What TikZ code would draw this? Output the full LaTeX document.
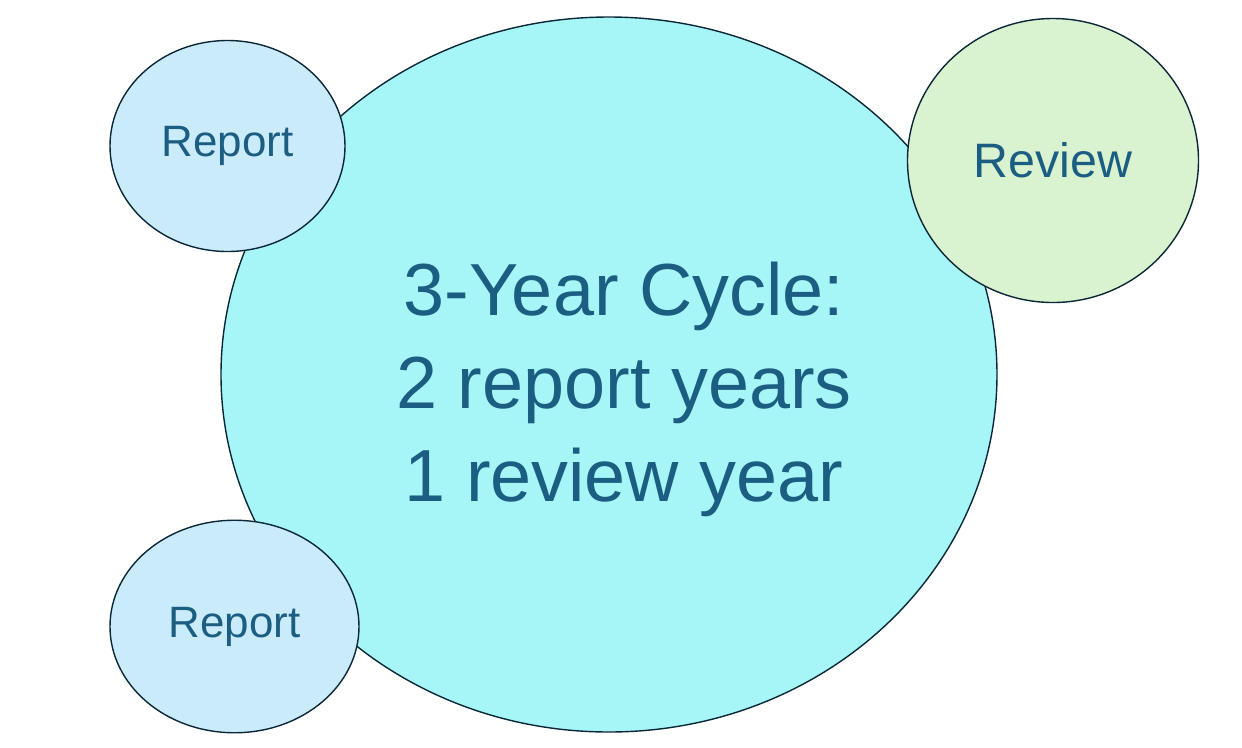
\documentclass[tikz,border=0pt]{standalone}
\usepackage{fontspec}
\setmainfont{Liberation Sans}
\usetikzlibrary{shapes.geometric}
\definecolor{cycleblue}{RGB}{166,246,248}
\definecolor{reportblue}{RGB}{202,236,250}
\definecolor{reviewgreen}{RGB}{217,242,208}
\definecolor{edgedark}{RGB}{12,40,56}
\definecolor{textblue}{RGB}{27,94,130}
\tikzset{
    bubble/.style={ellipse, draw=edgedark, line width=0.8pt, inner sep=0pt, text=textblue, align=center},
}
\begin{document}
\begin{tikzpicture}

                    \useasboundingbox (0,0) rectangle (24.84,-14.94);

                    % big cycle
                    \node[bubble, fill=cycleblue, minimum width=15.52cm, minimum height=14.3cm] (cycle) at (12.18,-7.49) {};
                    \node[text=textblue, align=center, font=\fontsize{42}{53}\selectfont] (cycletext)
                          at ([shift={(0.3,-0.3)}]cycle.center) {3-Year Cycle:\\2 report years\\1 review year};

                    % reports
                    \node[bubble, fill=reportblue, minimum width=4.7cm, minimum height=4.22cm,
                          font=\fontsize{25}{30}\selectfont] (report1) at (4.55,-2.92) {Report};
                    \node[bubble, fill=reportblue, minimum width=4.98cm, minimum height=4.25cm,
                          font=\fontsize{25}{30}\selectfont] (report2) at (4.69,-12.53) {Report};

                    % review
                    \node[bubble, fill=reviewgreen, minimum width=5.82cm, minimum height=5.68cm,
                          font=\fontsize{27.5}{33}\selectfont] (review) at (21.06,-3.21) {Review};

                \end{tikzpicture}
\end{document}
